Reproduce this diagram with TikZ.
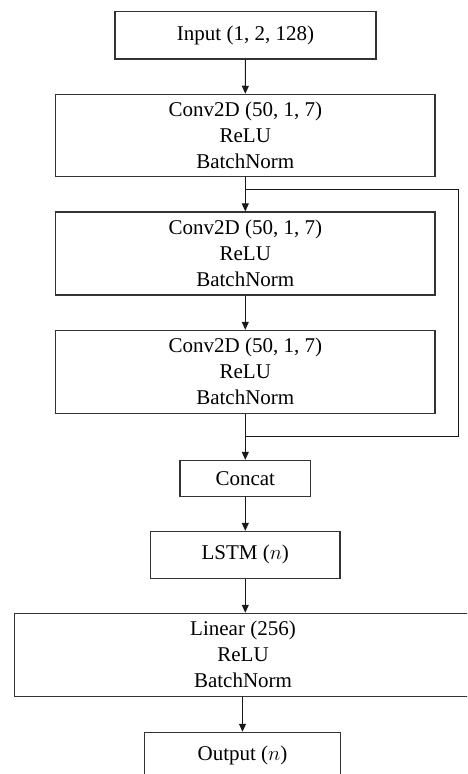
\documentclass[tikz,border=0pt]{standalone}
\usepackage{fontspec}
\setmainfont{Liberation Serif}
\usetikzlibrary{arrows.meta}

\tikzset{
  layer/.style={draw=black!80, line width=1.1pt, fill=white, inner sep=0pt,
    align=center, font=\fontsize{21}{26}\selectfont},
  flow/.style={draw=black!90, line width=1pt, -{Triangle[width=7pt,length=8pt]}},
  link/.style={draw=black!90, line width=1pt}
}

\begin{document}
\begin{tikzpicture}[x=1pt, y=-1pt]
  % page frame (the last two blocks run past the page edge)
  \useasboundingbox (0,0) rectangle (467,774);
  \clip (0,0) rectangle (467,774);

  % layers
  \node[layer, minimum width=261pt, minimum height=47.3pt] (in) at (245.5,35.3) {Input (1, 2, 128)};
  \node[layer, minimum width=379.3pt, minimum height=82pt] (c1) at (245.3,135.3) {Conv2D (50, 1, 7)\\ReLU\\BatchNorm};
  \node[layer, minimum width=379.3pt, minimum height=83pt] (c2) at (245.3,253.5) {Conv2D (50, 1, 7)\\ReLU\\BatchNorm};
  \node[layer, minimum width=379.3pt, minimum height=83pt] (c3) at (245.3,371.8) {Conv2D (50, 1, 7)\\ReLU\\BatchNorm};
  \node[layer, minimum width=130.7pt, minimum height=35.7pt] (cat) at (245.3,478.2) {Concat};
  \node[layer, minimum width=189.3pt, minimum height=46.7pt] (lstm) at (245.3,554.7) {LSTM ($n$)};
  \node[layer, minimum width=457.4pt, minimum height=83pt] (lin) at (243,654.8) {Linear (256)\\ReLU\\BatchNorm};
  \node[layer, minimum width=196.4pt, minimum height=45.6pt] (out) at (242.5,755.1) {Output ($n$)};

  % skip connection around the second and third convolution
  \coordinate (split) at (245.5,189);
  \coordinate (skA) at (458.7,189);
  \coordinate (skB) at (458.7,436.7);
  \coordinate (merge) at (245.5,436.7);

  % main flow
  \draw[flow] (in.south) -- (c1.north);
  \draw[flow] (c1.south) -- (c2.north);
  \draw[flow] (c2.south) -- (c3.north);
  \draw[flow] (c3.south) -- (cat.north);
  \draw[flow] (cat.south) -- (lstm.north);
  \draw[flow] (lstm.south) -- (lstm.south |- lin.north);
  \draw[flow] (lin.south -| out.north) -- (out.north);

  \draw[link] (split) -- (skA) -- (skB) -- (merge);
\end{tikzpicture}
\end{document}
